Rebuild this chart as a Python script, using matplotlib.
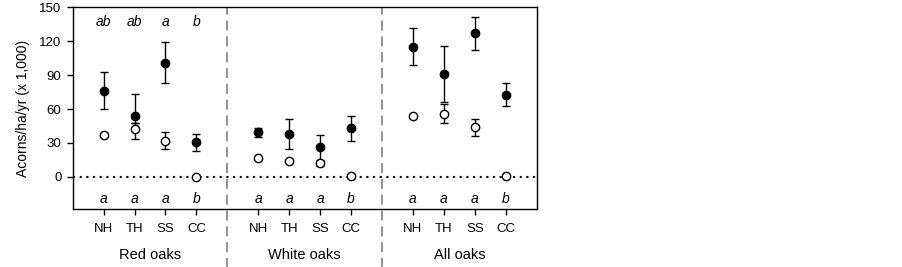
import matplotlib
matplotlib.use("Agg")
import matplotlib.pyplot as plt
import numpy as np

plt.rcParams['font.family'] = ['Liberation Sans', 'DejaVu Sans']

# categories per group
sites = ["NH", "TH", "SS", "CC"]
groups = ["Red oaks", "White oaks", "All oaks"]

# filled circles: mean, lower end, upper end of error bar
filled_mean = [76, 54, 101, 30.5,   39.3, 38, 26.6, 43,   115.4, 91, 127.2, 72.8]
filled_low  = [60, 48, 83.4, 23,    35.2, 24.3, 15, 31.7, 99.1, 66, 112.7, 63]
filled_high = [93, 73.4, 119.2, 38, 42.9, 51.5, 37, 53.9, 131.6, 116.3, 141.7, 82.8]

# open circles
open_mean = [37.3, 42.3, 32, 0,    16.3, 13.6, 12, 0.5,   53.8, 55.9, 43.8, 0.5]
open_low  = [35.5, 33.4, 24.6, 0,  15.5, 12.8, 9.5, 0.5,  52.5, 47.9, 36.1, 0.5]
open_high = [39, 48, 40, 0,        17, 14.5, 14, 0.5,     55, 64.8, 51.2, 0.5]

# significance letters
top_letters = ["ab", "ab", "a", "b", "", "", "", "", "", "", "", ""]
bottom_letters = ["a", "a", "a", "b", "a", "a", "a", "b", "a", "a", "a", "b"]

# x positions: 4 sites per group, one empty slot between groups
xpos = []
for g in range(len(groups)):
    for s in range(len(sites)):
        xpos.append(1 + g * 5 + s)
xpos = np.array(xpos)

fig = plt.figure(figsize=(9.02, 2.67), dpi=100)
ax = fig.add_axes([0.0806, 0.2154, 0.5144, 0.7566])

fm = np.array(filled_mean)
om = np.array(open_mean)
ferr = [fm - np.array(filled_low), np.array(filled_high) - fm]
oerr = [om - np.array(open_low), np.array(open_high) - om]

# zero line
ax.plot([0, 15], [0, 0], color='black', linestyle=(0, (1, 2.2)), linewidth=1.5, zorder=1)

ax.errorbar(xpos, fm, yerr=ferr, fmt='o', color='black', markersize=6,
            markerfacecolor='black', ecolor='black', elinewidth=1, capsize=3,
            capthick=1, zorder=3)
ax.errorbar(xpos, om, yerr=oerr, fmt='o', color='black', markersize=6,
            markerfacecolor='white', markeredgewidth=1, ecolor='black',
            elinewidth=1, capsize=3, capthick=1, zorder=4)

# group dividers
for xd in [5, 10]:
    ax.axvline(xd, ymin=-0.29, ymax=1, color='#808080', linestyle=(0, (6, 3.5)),
               linewidth=1.2, clip_on=False, zorder=0)

# letters
for x, t in zip(xpos, top_letters):
    if t:
        ax.text(x, 137, t, ha='center', va='center', fontsize=10, style='italic')
for x, t in zip(xpos, bottom_letters):
    ax.text(x, -19.5, t, ha='center', va='center', fontsize=10, style='italic')

ax.set_xlim(0, 15)
ax.set_ylim(-29, 150)
ax.set_yticks([0, 30, 60, 90, 120, 150])
ax.set_xticks(xpos)
ax.set_xticklabels(sites * len(groups))
ax.tick_params(axis='both', direction='out', length=4, width=1, labelsize=9.5, pad=4)
ax.tick_params(axis='x', pad=6)
ax.set_ylabel("Acorns/ha/yr (x 1,000)", fontsize=10, labelpad=7)

for g, name in enumerate(groups):
    ax.text(2.5 + g * 5, -0.225, name, transform=ax.get_xaxis_transform(),
            ha='center', va='center', fontsize=10.5)

for sp in ax.spines.values():
    sp.set_linewidth(1)

plt.savefig('out.png', dpi=100)
